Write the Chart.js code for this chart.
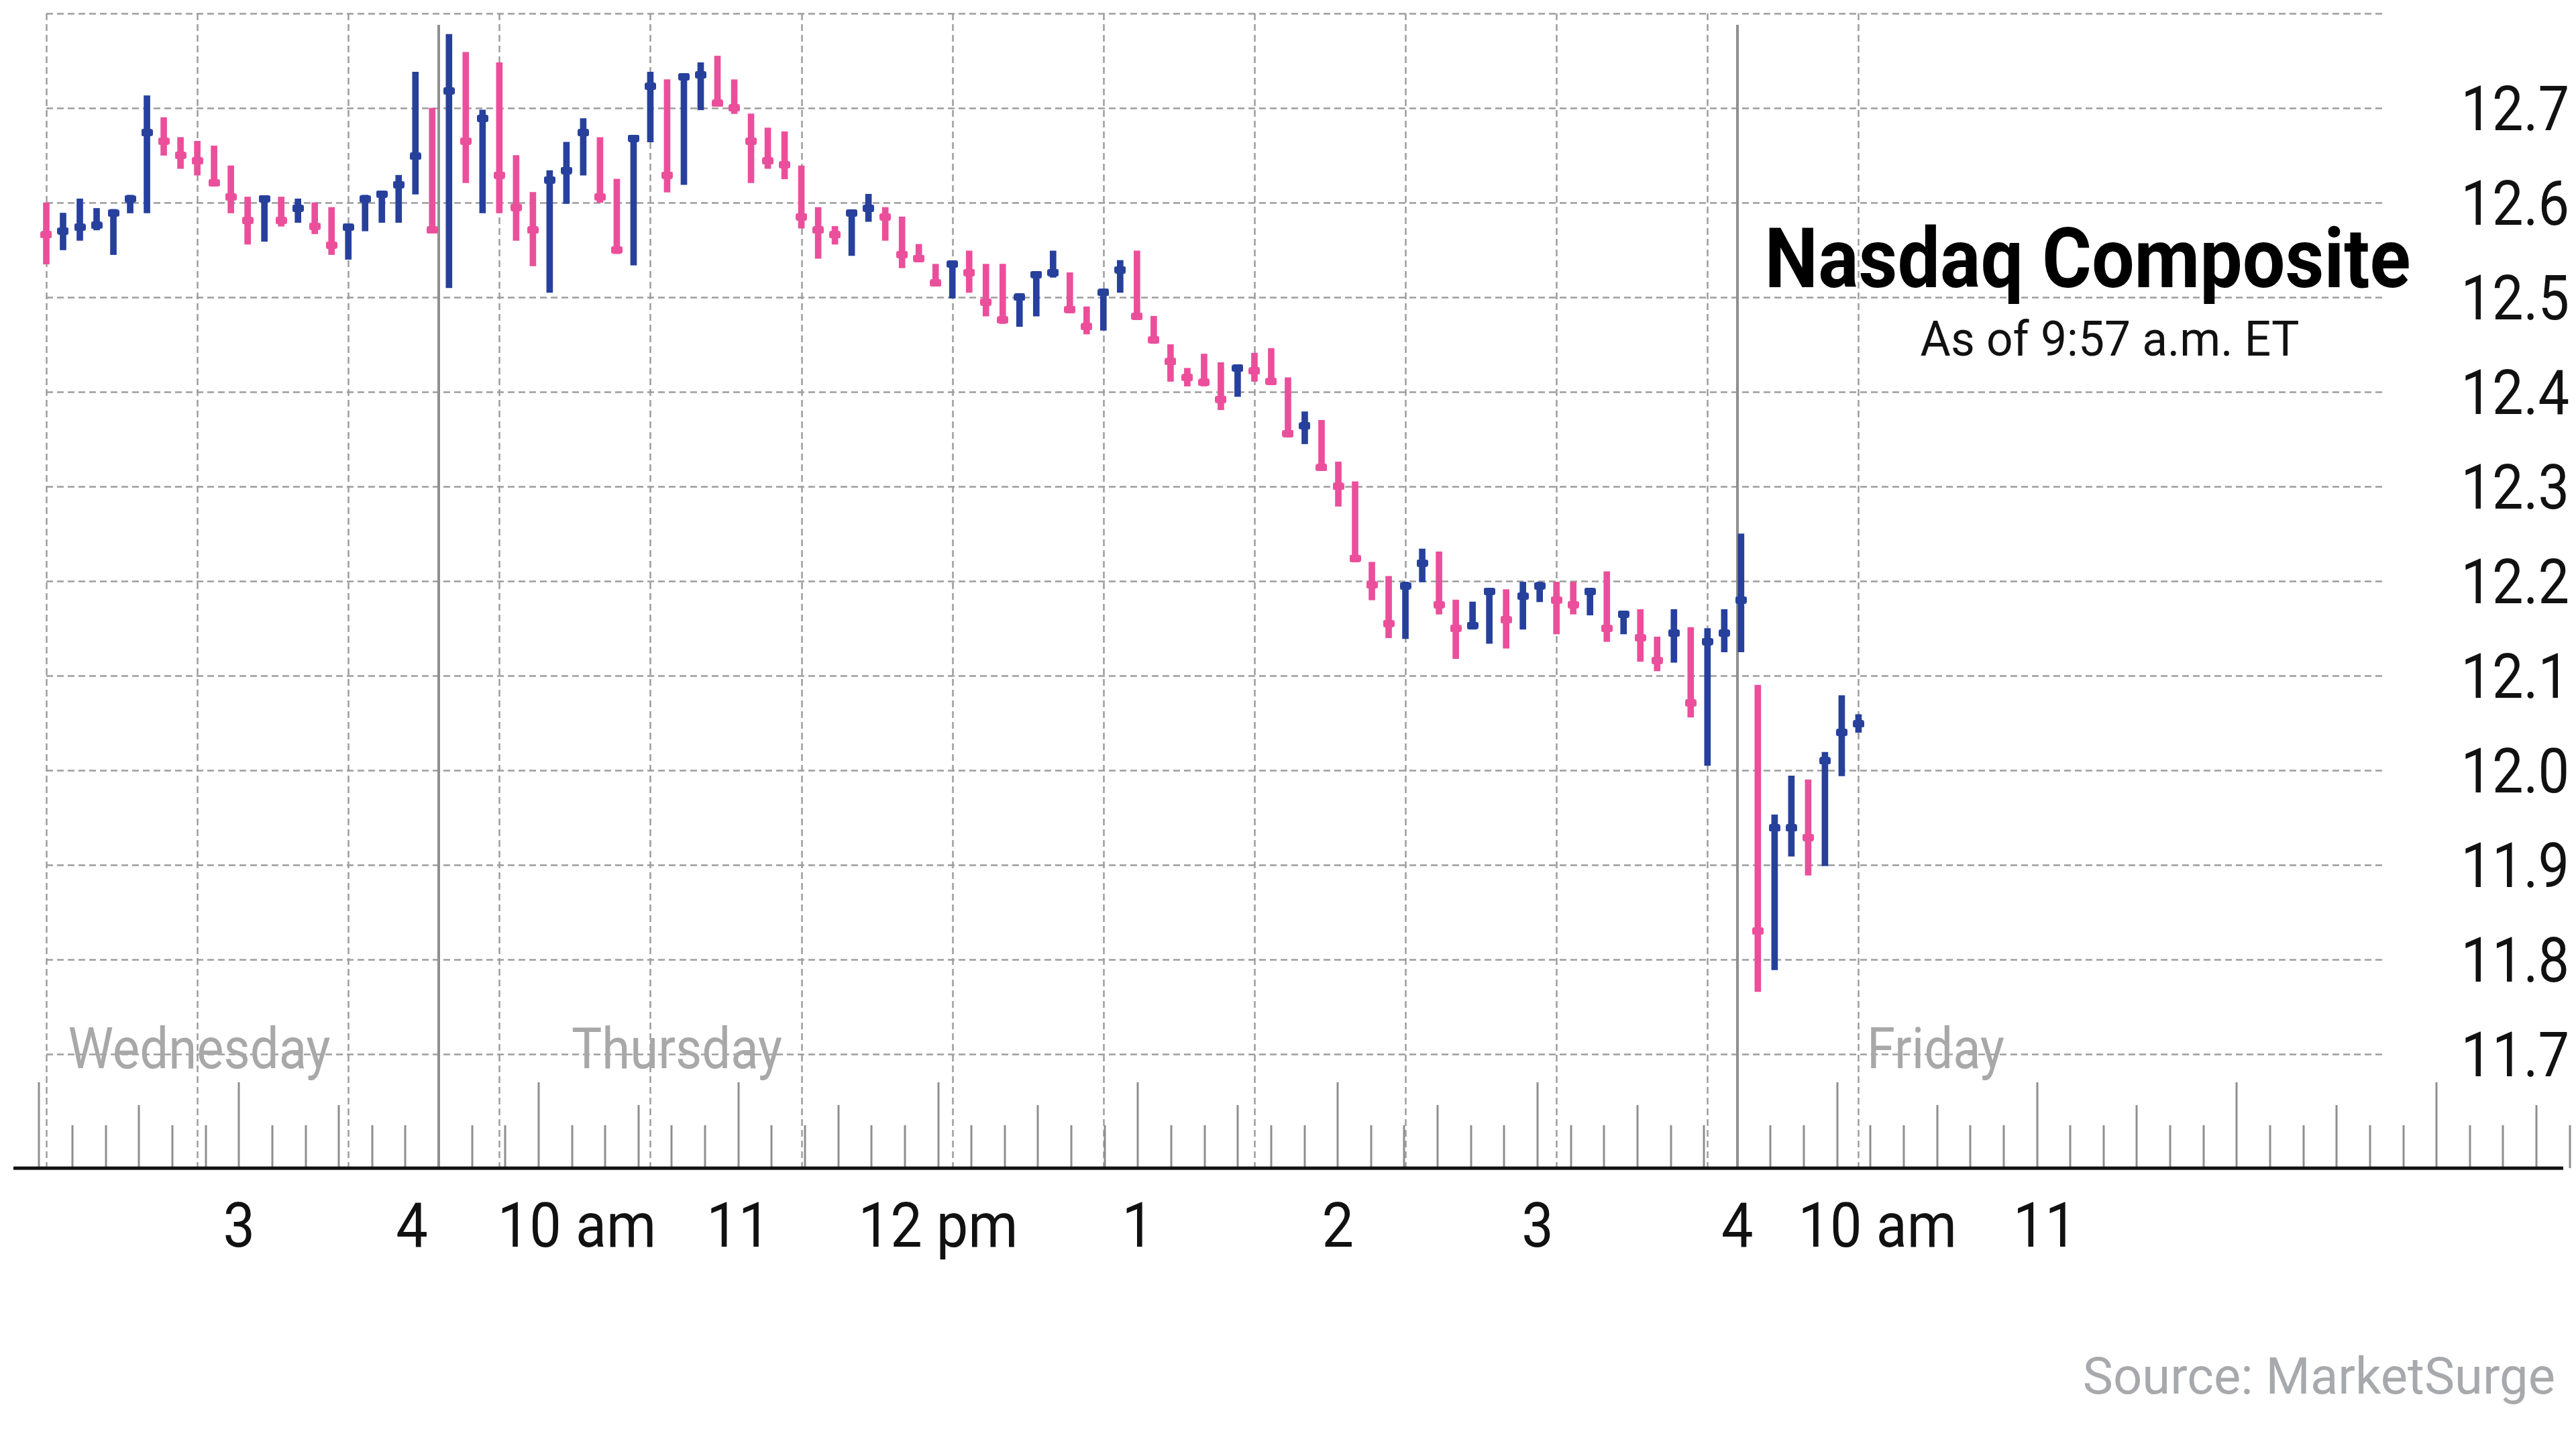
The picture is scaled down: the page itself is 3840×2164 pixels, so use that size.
<!DOCTYPE html>
<html>
<head>
<meta charset="utf-8">
<title>Nasdaq Composite</title>
<script src="https://cdn.jsdelivr.net/npm/chart.js@4.4.1/dist/chart.umd.min.js"></script>
<style>
  html, body { margin: 0; padding: 0; background: #fff; }
  #wrap { width: 3840px; height: 2164px; position: relative; }
</style>
</head>
<body>
<div id="wrap"><canvas id="nasdaqChart"></canvas></div>
<script>
// 5-minute bars: Wednesday 2:00-4:00 pm (24), Thursday full session (78), Friday open (7)
const dayNames = ['Wednesday', 'Thursday', 'Friday'];

const highs = [
  12.600, 12.589, 12.604, 12.594, 12.593, 12.608, 12.713, 12.690, 12.669, 12.665, 12.660, 12.639,
  12.606, 12.607, 12.606, 12.604, 12.600, 12.595, 12.577, 12.608, 12.612, 12.629, 12.738, 12.700,
  12.778, 12.759, 12.698, 12.748, 12.650, 12.611, 12.634, 12.664, 12.689, 12.669,
  12.625, 12.671, 12.738, 12.730, 12.736, 12.748, 12.755, 12.730, 12.694, 12.679,
  12.675, 12.639, 12.595, 12.575, 12.592, 12.609, 12.595, 12.585, 12.556, 12.535,
  12.538, 12.549, 12.535, 12.535, 12.504, 12.527, 12.549, 12.526, 12.490, 12.509,
  12.539, 12.549, 12.480, 12.450, 12.425, 12.440, 12.431, 12.428, 12.441, 12.446,
  12.415, 12.379, 12.370, 12.326, 12.305, 12.220, 12.205, 12.199, 12.234, 12.231,
  12.180, 12.178, 12.192, 12.191, 12.199, 12.199, 12.199, 12.199, 12.192, 12.210,
  12.168, 12.170, 12.141, 12.170, 12.151, 12.150, 12.170, 12.250,
  12.090, 11.953, 11.994, 11.990, 12.019, 12.079, 12.059
];

const lows = [
  12.535, 12.550, 12.560, 12.571, 12.545, 12.589, 12.589, 12.650, 12.636, 12.629, 12.618, 12.589,
  12.556, 12.559, 12.575, 12.579, 12.567, 12.545, 12.540, 12.570, 12.579, 12.579, 12.609, 12.568,
  12.510, 12.621, 12.589, 12.589, 12.560, 12.533, 12.505, 12.599, 12.629, 12.600,
  12.546, 12.534, 12.664, 12.611, 12.619, 12.698, 12.702, 12.694, 12.621, 12.636,
  12.625, 12.573, 12.541, 12.556, 12.544, 12.580, 12.560, 12.531, 12.538, 12.512,
  12.499, 12.505, 12.480, 12.472, 12.469, 12.480, 12.521, 12.484, 12.461, 12.465,
  12.505, 12.477, 12.451, 12.411, 12.406, 12.406, 12.381, 12.395, 12.411, 12.408,
  12.353, 12.345, 12.317, 12.279, 12.221, 12.180, 12.140, 12.139, 12.199, 12.165,
  12.118, 12.149, 12.134, 12.129, 12.149, 12.178, 12.144, 12.165, 12.164, 12.136,
  12.144, 12.115, 12.105, 12.114, 12.056, 12.005, 12.125, 12.125,
  11.766, 11.789, 11.909, 11.889, 11.899, 11.994, 12.040
];

const closes = [
  12.566, 12.570, 12.574, 12.576, 12.589, 12.604, 12.674, 12.665, 12.650, 12.644, 12.621, 12.606,
  12.581, 12.604, 12.581, 12.594, 12.575, 12.555, 12.574, 12.604, 12.609, 12.619, 12.649, 12.571,
  12.718, 12.665, 12.689, 12.629, 12.595, 12.571, 12.624, 12.634, 12.674, 12.606,
  12.550, 12.668, 12.723, 12.629, 12.733, 12.735, 12.705, 12.700, 12.665, 12.644,
  12.640, 12.585, 12.571, 12.566, 12.589, 12.594, 12.585, 12.545, 12.541, 12.515,
  12.535, 12.526, 12.495, 12.476, 12.500, 12.524, 12.526, 12.487, 12.469, 12.505,
  12.529, 12.480, 12.455, 12.432, 12.415, 12.410, 12.392, 12.425, 12.422, 12.411,
  12.356, 12.364, 12.320, 12.300, 12.224, 12.196, 12.155, 12.195, 12.219, 12.175,
  12.150, 12.153, 12.189, 12.159, 12.184, 12.195, 12.180, 12.175, 12.189, 12.150,
  12.165, 12.140, 12.116, 12.145, 12.071, 12.136, 12.145, 12.180,
  11.830, 11.939, 11.939, 11.929, 12.010, 12.040, 12.049
];

// 1 = up bar (blue), 0 = down bar (pink)
const upBars = [
  0, 1, 1, 1, 1, 1, 1, 0, 0, 0, 0, 0, 0, 1, 0, 1, 0, 0, 1, 1, 1, 1, 1, 0,
  1, 0, 1, 0, 0, 0, 1, 1, 1, 0,
  0, 1, 1, 0, 1, 1, 0, 0, 0, 0,
  0, 0, 0, 0, 1, 1, 0, 0, 0, 0,
  1, 0, 0, 0, 1, 1, 1, 0, 0, 1,
  1, 0, 0, 0, 0, 0, 0, 1, 0, 0,
  0, 1, 0, 0, 0, 0, 0, 1, 1, 0,
  0, 1, 1, 0, 1, 1, 0, 0, 1, 0,
  1, 0, 0, 1, 0, 1, 1, 1,
  0, 1, 1, 0, 1, 1, 1
];

const yTicks = [12.7, 12.6, 12.5, 12.4, 12.3, 12.2, 12.1, 12.0, 11.9, 11.8, 11.7];
const timeLabels = ['3', '4', '10 am', '11', '12 pm', '1', '2', '3', '4', '10 am', '11'];
const timeLabelDay = [0, 0, 1, 1, 1, 1, 1, 1, 1, 2, 2];
const timeLabelHour = [15, 16, 10, 11, 12, 13, 14, 15, 16, 10, 11];

// layout (in bar units on the x scale)
const SEP_WED_THU = 23.39;
const BARS_PER_HOUR = 11.906;
const SEP_THU_FRI = SEP_WED_THU + 6.5 * BARS_PER_HOUR;
const GRID_END = 139.3;
const labelNudge = { 1: -40, 2: 57, 9: 60, 10: 12 };
const dayLabelAt = [1.3, 31.3, 108.5];

const BLUE = '#26409c';
const PINK = '#eb4f9b';

function timePos(day, hour) {
  if (day === 0) return SEP_WED_THU - (16 - hour) * BARS_PER_HOUR;
  if (day === 1) return SEP_WED_THU + (hour - 9.5) * BARS_PER_HOUR;
  return SEP_THU_FRI + (hour - 9.5) * BARS_PER_HOUR;
}

function makeMarker(color) {
  const c = document.createElement('canvas');
  c.width = 17; c.height = 11;
  const g = c.getContext('2d');
  g.fillStyle = color;
  g.beginPath();
  g.roundRect(0, 0, 17, 11, 3);
  g.fill();
  return c;
}
const markers = [makeMarker(PINK), makeMarker(BLUE)];

function drawText(ctx, text, x, y, font, color, align, squeeze) {
  ctx.save();
  ctx.font = font;
  ctx.fillStyle = color;
  ctx.textAlign = align;
  ctx.textBaseline = 'alphabetic';
  ctx.translate(x, y);
  ctx.scale(squeeze, 1);
  ctx.fillText(text, 0, 0);
  ctx.restore();
}

// grid, time ticks, session separators and axis line
const frame = {
  id: 'frame',
  beforeDatasetsDraw(chart) {
    const { ctx, scales: { x, y } } = chart;
    const axisY = y.bottom;
    ctx.save();

    ctx.strokeStyle = '#9d9d9d';
    ctx.lineWidth = 2.5;
    ctx.setLineDash([10, 6]);
    [y.max].concat(yTicks).forEach(v => {
      const py = Math.round(y.getPixelForValue(v)) + 0.5;
      ctx.beginPath();
      ctx.moveTo(x.getPixelForValue(0), py);
      ctx.lineTo(x.getPixelForValue(GRID_END), py);
      ctx.stroke();
    });
    for (let i = 0; i < highs.length; i += 9) {
      const px = Math.round(x.getPixelForValue(i)) + 0.5;
      ctx.beginPath();
      ctx.moveTo(px, y.getPixelForValue(y.max));
      ctx.lineTo(px, axisY);
      ctx.stroke();
    }
    ctx.setLineDash([]);

    // 10-minute ticks rising from the axis
    ctx.strokeStyle = '#8e8e8e';
    ctx.lineWidth = 3;
    const spans = [[0, 14, 16], [1, 9.5, 16], [2, 9.5, 13 + 40 / 60]];
    spans.forEach(([day, from, to]) => {
      for (let m = Math.round(from * 60); m <= Math.round(to * 60); m += 10) {
        const len = m % 60 === 0 ? 128 : (m % 30 === 0 ? 94 : 64);
        const px = Math.round(x.getPixelForValue(timePos(day, m / 60)));
        ctx.beginPath();
        ctx.moveTo(px, axisY);
        ctx.lineTo(px, axisY - len);
        ctx.stroke();
      }
    });

    // day separators
    ctx.strokeStyle = '#8f8f8f';
    ctx.lineWidth = 4;
    [SEP_WED_THU, SEP_THU_FRI].forEach(s => {
      const px = Math.round(x.getPixelForValue(s));
      ctx.beginPath();
      ctx.moveTo(px, y.top + 17);
      ctx.lineTo(px, axisY);
      ctx.stroke();
    });

    // axis line
    ctx.strokeStyle = '#111';
    ctx.lineWidth = 5;
    ctx.beginPath();
    ctx.moveTo(x.left, axisY);
    ctx.lineTo(x.right - 10, axisY);
    ctx.stroke();
    ctx.restore();
  },
  afterDatasetsDraw(chart) {
    const { ctx, scales: { x, y } } = chart;
    const axisY = y.bottom;

    // day names sit on the bottom grid row
    dayNames.forEach((d, k) => {
      drawText(ctx, d, x.getPixelForValue(dayLabelAt[k]), 1592,
        '86px Roboto', '#a8a8a8', 'left', 0.885);
    });

    // price labels on the right
    yTicks.forEach(v => {
      drawText(ctx, v.toFixed(1), 3830, y.getPixelForValue(v) + 33,
        '92px Roboto', '#111', 'right', 0.9);
    });

    // time labels under the axis
    timeLabels.forEach((t, k) => {
      const px = x.getPixelForValue(timePos(timeLabelDay[k], timeLabelHour[k])) + (labelNudge[k] || 0);
      drawText(ctx, t, px, axisY + 117, '92px Roboto', '#111', 'center', 0.92);
    });

    drawText(ctx, 'Nasdaq Composite', 3112, 428, 'bold 124px Roboto', '#000', 'center', 0.91);
    drawText(ctx, 'As of 9:57 a.m. ET', 3145, 530, '72px Roboto', '#111', 'center', 0.965);
    drawText(ctx, 'Source: MarketSurge', 3809, 2077, '76px Roboto', '#a7a9ac', 'right', 1);
  }
};

Chart.defaults.font.family = 'Roboto';

new Chart(document.getElementById('nasdaqChart'), {
  type: 'bar',
  data: {
    datasets: [
      {
        type: 'scatter',
        label: 'Close',
        data: closes.map((c, i) => ({ x: i, y: c })),
        pointStyle: ctx => markers[upBars[ctx.dataIndex]],
        pointRadius: 8,
        order: 0
      },
      {
        type: 'bar',
        label: 'High-low',
        data: highs.map((h, i) => ({ x: i, y: [lows[i], h] })),
        backgroundColor: upBars.map(u => u ? BLUE : PINK),
        borderWidth: 0,
        barThickness: 9,
        order: 1
      }
    ]
  },
  options: {
    responsive: true,
    maintainAspectRatio: false,
    animation: false,
    layout: { padding: { left: 20, right: 7, top: 20, bottom: 423 } },
    scales: {
      x: { type: 'linear', min: -1.958, max: 150.4, offset: false, display: false },
      y: { type: 'linear', min: 11.5794, max: 12.8, display: false }
    },
    plugins: {
      legend: { display: false },
      tooltip: { enabled: false }
    }
  },
  plugins: [frame]
});
</script>
</body>
</html>
